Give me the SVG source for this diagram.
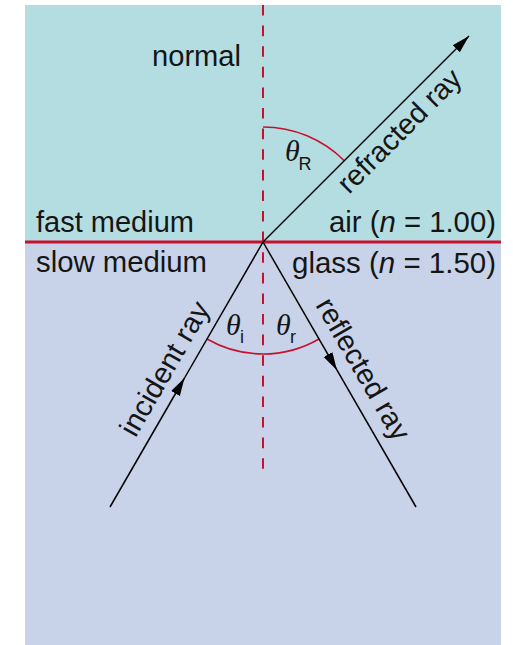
<svg xmlns="http://www.w3.org/2000/svg" width="513" height="645" viewBox="0 0 513 645">
<style>
.lbl{font-family:"Liberation Sans",Arial,sans-serif;font-size:29px;fill:#151515}
.th{font-family:"Liberation Serif","Times New Roman",serif;font-style:italic;font-size:30px;fill:#151515}
.sub{font-family:"Liberation Sans",Arial,sans-serif;font-size:18px;fill:#151515}
.ray{stroke:#000;stroke-width:1.5;fill:none}
.arc{stroke:#c8102e;stroke-width:1.6;fill:none}
</style>
<defs>
<marker id="ah" markerWidth="20" markerHeight="12" refX="18" refY="6" orient="auto" markerUnits="userSpaceOnUse">
<path d="M0,1 L18,6 L0,11 z" fill="#000"/>
</marker>
</defs>
<g id="media">
<rect x="25" y="5" width="476" height="237" fill="#b4dde2"/>
<rect x="25" y="242" width="476" height="403" fill="#c8d3ea"/>
</g>
<g id="normal">
<line x1="263" y1="5" x2="263" y2="470" stroke="#c8102e" stroke-width="2" stroke-dasharray="10.6 10"/>
</g>
<g id="interface">
<line x1="25" y1="242" x2="501" y2="242" stroke="#c8102e" stroke-width="3"/>
</g>
<g id="angles">
<path class="arc" d="M263,127 A115,115 0 0 1 344.3,160.7"/>
<path class="arc" d="M207,339 A112,112 0 0 0 319,339"/>
</g>
<g id="connectors">
<line id="refracted" class="ray" x1="263" y1="242" x2="469" y2="36" marker-end="url(#ah)"/>
<line id="incident-a" class="ray" x1="110" y1="507" x2="184.5" y2="378" marker-end="url(#ah)"/>
<line id="incident-b" class="ray" x1="184.5" y1="378" x2="263" y2="242"/>
<line id="reflected-a" class="ray" x1="263" y1="242" x2="337" y2="370.2" marker-end="url(#ah)"/>
<line id="reflected-b" class="ray" x1="337" y1="370.2" x2="416" y2="507"/>
</g>
<g id="labels">
<text class="lbl" x="152" y="66" textLength="89" lengthAdjust="spacingAndGlyphs">normal</text>
<text class="lbl" x="36" y="232" textLength="158" lengthAdjust="spacingAndGlyphs">fast medium</text>
<text class="lbl" x="36" y="272" textLength="171" lengthAdjust="spacingAndGlyphs">slow medium</text>
<text class="lbl" x="329" y="232" textLength="167" lengthAdjust="spacingAndGlyphs">air (<tspan font-style="italic">n</tspan> = 1.00)</text>
<text class="lbl" x="292" y="273" textLength="204" lengthAdjust="spacingAndGlyphs">glass (<tspan font-style="italic">n</tspan> = 1.50)</text>
<text class="lbl" transform="translate(349,195) rotate(-45)" textLength="162" lengthAdjust="spacingAndGlyphs">refracted ray</text>
<text class="lbl" transform="translate(135.5,438.5) rotate(-60)" textLength="150" lengthAdjust="spacingAndGlyphs">incident ray</text>
<text class="lbl" transform="translate(315,305) rotate(60)" textLength="159" lengthAdjust="spacingAndGlyphs">reflected ray</text>
</g>
<g id="angle-labels">
<text class="th" x="285" y="161">θ</text><text class="sub" x="298.5" y="170">R</text>
<text class="th" x="226" y="335">θ</text><text class="sub" x="240" y="343">i</text>
<text class="th" x="276" y="335">θ</text><text class="sub" x="290" y="343">r</text>
</g>
</svg>
